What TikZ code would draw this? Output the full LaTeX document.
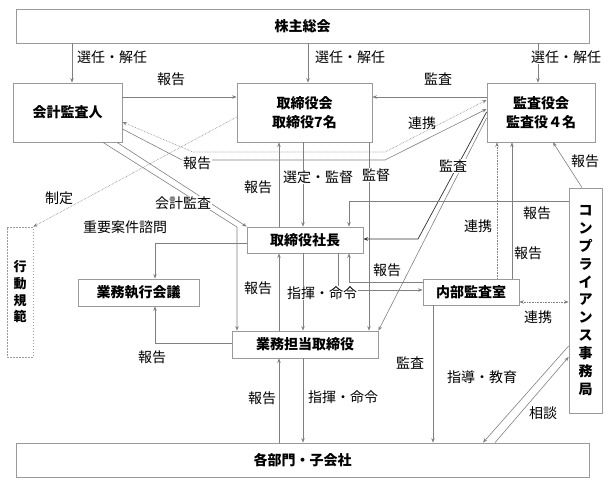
\documentclass[tikz,border=0pt]{standalone}
\usepackage{fontspec}
\setmainfont{Noto Sans CJK JP}
\usetikzlibrary{arrows.meta,calc}
\definecolor{boxgray}{HTML}{9A9A9A}
\definecolor{linegray}{HTML}{808080}
\definecolor{darkline}{HTML}{303030}
\begin{document}
\begin{tikzpicture}[x=1pt,y=-1pt,
  font=\fontsize{14}{17}\selectfont,
  box/.style={draw=boxgray, line width=0.8pt, fill=white, inner sep=0pt,
    font=\fontsize{14}{19}\selectfont\bfseries, align=center},
  conn/.style={draw=linegray, line width=0.6pt},
  arr/.style={conn, -{Stealth[length=4.5pt,width=3.5pt]}},
  darr/.style={conn, {Stealth[length=4.5pt,width=3.5pt]}-{Stealth[length=4.5pt,width=3.5pt]}},
  dot/.style={densely dotted},
  lbl/.style={inner sep=1pt},
  lblw/.style={inner sep=1pt, fill=white}]
\useasboundingbox (0,0) rectangle (613,492);

% boxes
\node[box, minimum width=573pt, minimum height=34pt] (kabu) at (302.5,26) {株主総会};
\node[box, minimum width=109pt, minimum height=59pt] (kaikei) at (67.5,112.5) {会計監査人};
\node[box, minimum width=135pt, minimum height=59pt] (torikai) at (304.5,112.5) {取締役会\\取締役7名};
\node[box, minimum width=108pt, minimum height=59pt] (kansa) at (541,112.5) {監査役会\\監査役４名};
\node[box, minimum width=116pt, minimum height=26pt] (shacho) at (305,240) {取締役社長};
\node[box, minimum width=121pt, minimum height=27pt] (kaigi) at (138.5,292.5) {業務執行会議};
\node[box, minimum width=146pt, minimum height=27pt] (tanto) at (305,344.5) {業務担当取締役};
\node[box, minimum width=96pt, minimum height=26pt] (naibu) at (471,292) {内部監査室};
\node[box, minimum width=33pt, minimum height=225pt, font=\fontsize{14}{17.9}\selectfont\bfseries] (comp) at (585.5,300.5)
  {コ\\ン\\プ\\ラ\\イ\\ア\\ン\\ス\\事\\務\\局};
\node[box, dash pattern=on 1.5pt off 1.5pt, line width=0.6pt, minimum width=26pt, minimum height=130pt,
  font=\fontsize{13}{16.7}\selectfont\bfseries] (kodo) at (20,292) {行\\動\\規\\範};
\node[box, minimum width=573pt, minimum height=34pt] (kakubu) at (302.5,460) {各部門・子会社};

% connectors
\draw[arr] (kabu.south -| 72,0) -- (kaikei.north -| 72,0);
\draw[arr] (kabu.south -| 308,0) -- (torikai.north -| 308,0);
\draw[arr] (kabu.south -| 538,0) -- (kansa.north -| 538,0);
\draw[arr] (kaikei.east |- 0,97) -- (torikai.west |- 0,97);
\draw[arr] (kansa.west |- 0,97) -- (torikai.east |- 0,97);
\draw[darr, dot] (kaikei.east |- 0,122) -- (193,152) -- (385,152) -- (kansa.west |- 0,100);
\draw[arr] (kaikei.east |- 0,129) -- (182,160) -- (385,160) -- (kansa.west |- 0,109);
\draw[arr, dot] (torikai.west |- 0,117) -- (kodo.north east);
\draw[arr] (kaikei.south -| 117,0) -- (shacho.north west);
\draw[arr] (kaikei.south -| 103,0) -- (237,227) -- (tanto.north -| 237,0);
\draw[arr] (shacho.north -| 279,0) -- (torikai.south -| 279,0);
\draw[arr] (torikai.south -| 303,0) -- (shacho.north -| 303,0);
\draw[arr] (torikai.south -| 369,0) -- (tanto.north -| 369,0);
\draw[arr, draw=darkline, line width=0.7pt] (kansa.west |- 0,112) -- (418,239) -- (shacho.east |- 0,239);
\draw[arr] (kansa.west |- 0,118) -- (tanto.north east);
\draw[arr] (comp.west |- 0,201) -- (349,201) -- (shacho.north -| 349,0);
\draw[arr] (comp.north -| 582,0) -- (kansa.south -| 553,0);
\draw[arr] (naibu.north -| 512,0) -- (kansa.south -| 512,0);
\draw[arr, dot] (naibu.north -| 497,0) -- (kansa.south -| 497,0);
\draw[arr] (naibu.west |- 0,282) -- (349,282) -- (shacho.south -| 349,0);
\draw[arr] (shacho.south -| 338,0) -- (338,290) -- (naibu.west |- 0,290);
\draw[arr] (shacho.south -| 303,0) -- (tanto.north -| 303,0);
\draw[arr] (tanto.north -| 279,0) -- (shacho.south -| 279,0);
\draw[arr] (shacho.west |- 0,243) -- (155,243) -- (kaigi.north -| 155,0);
\draw[arr] (tanto.west |- 0,343) -- (155,343) -- (kaigi.south -| 155,0);
\draw[arr] (kakubu.north -| 279,0) -- (tanto.south -| 279,0);
\draw[arr] (tanto.south -| 303,0) -- (kakubu.north -| 303,0);
\draw[arr] (naibu.south -| 433,0) -- (kakubu.north -| 433,0);
\draw[arr] (comp.west |- 0,346) -- (kakubu.north -| 483,0);
\draw[arr] (kakubu.north -| 495,0) -- (comp.west |- 0,357);
\draw[darr, dot] (naibu.east |- 0,302) -- (comp.west |- 0,302);

% labels
\node[lblw] (l1) at (112,57) {選任・解任};
\node[lblw] (l2) at (350,57) {選任・解任};
\node[lblw] (l3) at (566,57) {選任・解任};
\node[lbl] (l4) at (171,79) {報告};
\node[lbl] (l5) at (438,79) {監査};
\node[lbl] (l6) at (422,123) {連携};
\node[lblw] (l7) at (197,163) {報告};
\node[lbl] (l8) at (59,198) {制定};
\node[lblw] (l9) at (183,203) {会計監査};
\node[lbl] (l10) at (125,227) {重要案件諮問};
\node[lbl] (l11) at (258,187) {報告};
\node[lblw] (l12) at (318,177) {選定・監督};
\node[lblw] (l13) at (376,175) {監督};
\node[lblw] (l14) at (453,166) {監査};
\node[lbl] (l15) at (478,226) {連携};
\node[lbl] (l16) at (537,213) {報告};
\node[lbl] (l17) at (528,253) {報告};
\node[lbl] (l18) at (585,161) {報告};
\node[lbl] (l19) at (387,270) {報告};
\node[lblw] (l20) at (322,293) {指揮・命令};
\node[lbl] (l21) at (258,288) {報告};
\node[lbl] (l22) at (152,357) {報告};
\node[lbl] (l23) at (262,398) {報告};
\node[lbl] (l24) at (343,397) {指揮・命令};
\node[lbl] (l25) at (410,363) {監査};
\node[lbl] (l26) at (482,377) {指導・教育};
\node[lbl] (l27) at (543,413) {相談};
\node[lbl] (l28) at (538,317) {連携};
\end{tikzpicture}
\end{document}
